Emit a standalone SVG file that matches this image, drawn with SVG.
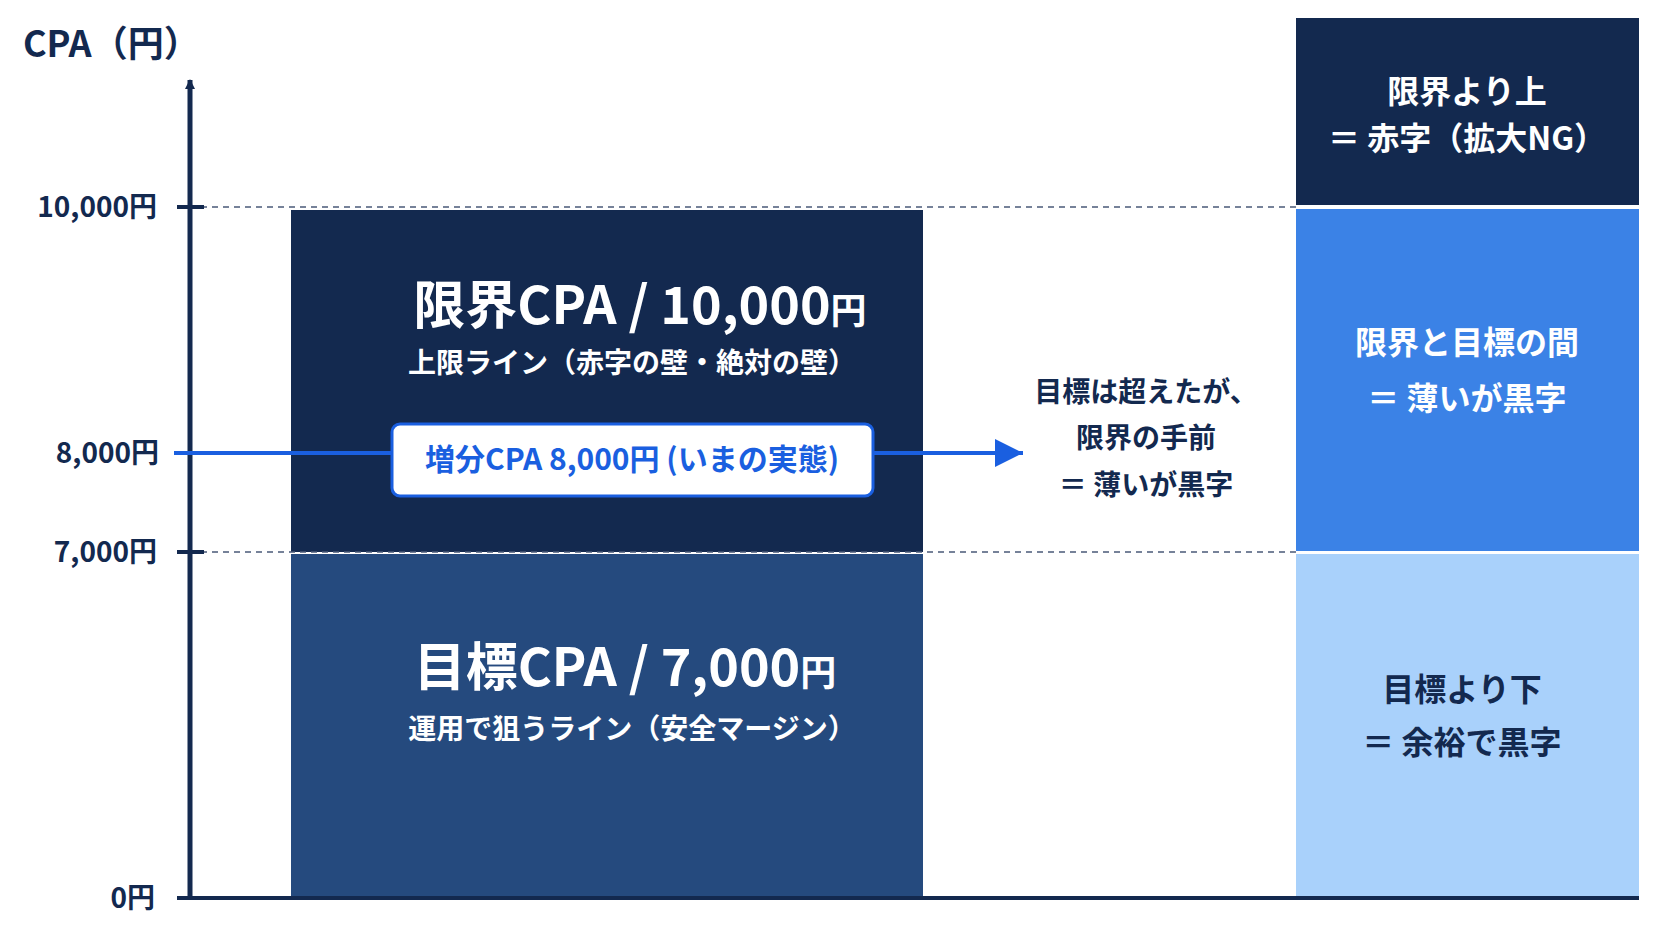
<svg xmlns="http://www.w3.org/2000/svg" width="1672" height="941" viewBox="0 0 1672 941">
<style>
text{font-family:"Noto Sans CJK JP","Noto Sans",sans-serif;font-weight:700}
.tick{font-size:28px;fill:#13294f;text-anchor:end}
.big{font-size:52px;fill:#fff;text-anchor:middle}
.sub{font-size:28px;fill:#fff;text-anchor:middle}
.mid{font-size:28px;fill:#13294f;text-anchor:middle}
.r{font-size:32px;text-anchor:middle}
.dash{stroke:#4a5a78;stroke-width:1.5;stroke-dasharray:6 5}
</style>
<defs>
<marker id="ah" markerWidth="10" markerHeight="10" refX="9" refY="5" orient="auto" markerUnits="userSpaceOnUse" viewBox="0 0 10 10"><path d="M0,0L10,5L0,10z" fill="#13294f"/></marker>
<marker id="ab" viewBox="0 0 10 10" refX="10" refY="5" markerWidth="28" markerHeight="28" markerUnits="userSpaceOnUse" orient="auto"><path d="M0,0L10,5L0,10z" fill="#1a5fe0"/></marker>
</defs>
<rect width="1672" height="941" fill="#fff"/>
<g id="limit-block"><rect x="291" y="210" width="632" height="342" fill="#13294f"/>
<text class="big" x="640" y="324">限界CPA / 10,000<tspan font-size="36px">円</tspan></text>
<text class="sub" x="632" y="373">上限ライン（赤字の壁・絶対の壁）</text></g>
<g id="target-block"><rect x="291" y="554" width="632" height="344" fill="#254a7e"/>
<text class="big" x="625" y="686">目標CPA / 7,000<tspan font-size="36px">円</tspan></text>
<text class="sub" x="632" y="739">運用で狙うライン（安全マージン）</text></g>
<g id="right-top"><rect x="1296" y="18" width="343" height="187" fill="#13294f"/>
<text class="r" x="1467" y="103" fill="#fff">限界より上</text><text class="r" x="1467" y="150" fill="#fff">＝ 赤字（拡大NG）</text></g>
<g id="right-mid"><rect x="1296" y="209" width="343" height="342" fill="#3b82e6"/>
<text class="r" x="1467" y="354" fill="#fff">限界と目標の間</text><text class="r" x="1467" y="410" fill="#fff">＝ 薄いが黒字</text></g>
<g id="right-low"><rect x="1296" y="554" width="343" height="342" fill="#a9d1fb"/>
<text class="r" x="1462" y="701" fill="#13294f">目標より下</text><text class="r" x="1462" y="754" fill="#13294f">＝ 余裕で黒字</text></g>
<g id="connectors">
<line class="dash" x1="190" y1="207" x2="1296" y2="207"/>
<line class="dash" x1="190" y1="552" x2="1296" y2="552"/>
<line x1="190" y1="898" x2="190" y2="80" stroke="#13294f" stroke-width="5" marker-end="url(#ah)"/>
<line x1="178" y1="898" x2="1639" y2="898" stroke="#13294f" stroke-width="4"/>
<g stroke="#13294f" stroke-width="4"><line x1="177" y1="207" x2="204" y2="207"/><line x1="177" y1="552" x2="204" y2="552"/><line x1="177" y1="898" x2="204" y2="898"/></g>
<line x1="174" y1="453" x2="1023" y2="453" stroke="#1a5fe0" stroke-width="4" marker-end="url(#ab)"/>
</g>
<g id="axis-labels">
<text x="23" y="57" font-size="36" fill="#13294f">CPA（円）</text>
<text class="tick" x="157" y="217">10,000円</text>
<text class="tick" x="159" y="463" fill="#1a5fe0">8,000円</text>
<text class="tick" x="157" y="562">7,000円</text>
<text class="tick" x="155" y="908">0円</text></g>
<g id="current"><rect x="392" y="424" width="481" height="72" rx="8" fill="#fff" stroke="#1a5fe0" stroke-width="3"/>
<text x="632" y="470" font-size="30" fill="#1a5fe0" text-anchor="middle">増分CPA 8,000円 (いまの実態)</text></g>
<g id="note"><text class="mid" x="1146" y="402">目標は超えたが、</text><text class="mid" x="1146" y="448">限界の手前</text><text class="mid" x="1146" y="495">＝ 薄いが黒字</text></g>
</svg>
